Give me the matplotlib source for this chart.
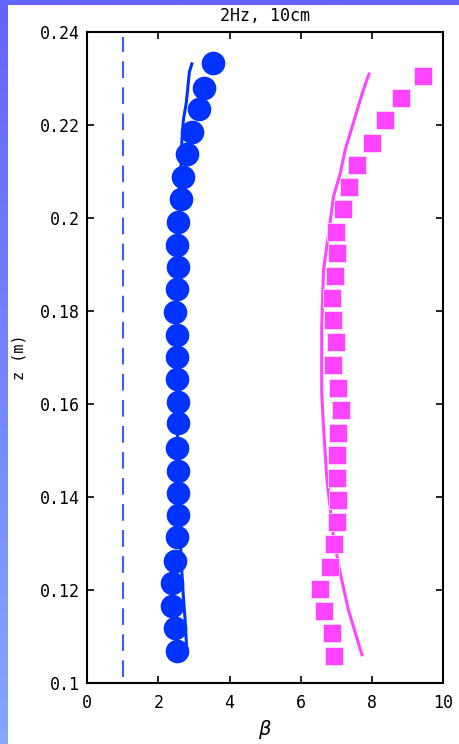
import matplotlib
matplotlib.use('Agg')
import matplotlib.pyplot as plt
import numpy as np
from matplotlib.colors import LinearSegmentedColormap
from matplotlib.ticker import FuncFormatter

# blue series (circles) - beta vs z
z_blue = [0.2333, 0.2281, 0.2234, 0.2185, 0.2137, 0.2089, 0.2041, 0.1992, 0.1942,
          0.1894, 0.1847, 0.1799, 0.1748, 0.1700, 0.1653, 0.1605, 0.1558, 0.1505,
          0.1456, 0.1409, 0.1361, 0.1313, 0.1263, 0.1214, 0.1166, 0.1117, 0.1069]
b_blue = [3.52, 3.28, 3.14, 2.95, 2.80, 2.70, 2.64, 2.56, 2.51,
          2.56, 2.51, 2.47, 2.51, 2.51, 2.51, 2.56, 2.56, 2.51,
          2.56, 2.56, 2.56, 2.51, 2.47, 2.37, 2.37, 2.47, 2.51]

# magenta series (squares)
z_mag = [0.2307, 0.2259, 0.2211, 0.2162, 0.2114, 0.2068, 0.2020, 0.1971, 0.1924,
         0.1876, 0.1829, 0.1781, 0.1733, 0.1684, 0.1634, 0.1586, 0.1537, 0.1490,
         0.1441, 0.1393, 0.1345, 0.1298, 0.1250, 0.1202, 0.1154, 0.1106, 0.1058]
b_mag = [9.44, 8.82, 8.38, 8.00, 7.57, 7.36, 7.18, 6.99, 7.02,
         6.97, 6.87, 6.90, 6.99, 6.92, 7.04, 7.13, 7.04, 7.02,
         7.03, 7.06, 7.03, 6.94, 6.81, 6.55, 6.65, 6.89, 6.94]

# model curves
z_blue_fit = [0.2332, 0.2315, 0.2276, 0.2247, 0.2211, 0.2168, 0.20, 0.18, 0.16,
              0.14, 0.1236, 0.1185, 0.1135, 0.1064]
b_blue_fit = [2.94, 2.87, 2.82, 2.78, 2.70, 2.66, 2.58, 2.53, 2.52,
              2.56, 2.66, 2.70, 2.75, 2.80]
z_mag_fit = [0.2310, 0.2276, 0.2218, 0.2147, 0.2096, 0.2046, 0.1982, 0.1888, 0.1766,
             0.1624, 0.1550, 0.1443, 0.1314, 0.1236, 0.1157, 0.1060]
b_mag_fit = [7.92, 7.76, 7.53, 7.25, 7.11, 6.92, 6.81, 6.64, 6.59,
             6.59, 6.64, 6.73, 6.92, 7.11, 7.34, 7.72]

# reference line beta = 1
z_ref = [0.1013, 0.2390]
b_ref = [1, 1]

fig = plt.figure(figsize=(4.6, 7.44), dpi=100)

# blue frame background with a gradient, white panel on top
bg = fig.add_axes([0, 0, 1, 1], zorder=-10)
cmap = LinearSegmentedColormap.from_list('bg', ['#6464ff', '#86a6ff'])
bg.imshow(np.linspace(0, 1, 256).reshape(-1, 1), aspect='auto', cmap=cmap,
          extent=[0, 1, 0, 1], origin='upper')
bg.add_patch(plt.Rectangle((8 / 460, 0), 1, 1 - 5 / 744, color='white', lw=0))
bg.set_xlim(0, 1)
bg.set_ylim(0, 1)
bg.axis('off')

font = 'DejaVu Sans Mono'
ax = fig.add_axes([87.3 / 460, 61.3 / 744, 355.7 / 460, 650.4 / 744])

ax.plot(b_ref, z_ref, color='#3a5cff', lw=1.5, dashes=(8, 4.5))
ax.plot(b_blue_fit, z_blue_fit, color='#0033ff', lw=2.2)
ax.plot(b_mag_fit, z_mag_fit, color='#ff44ff', lw=2.2)
ax.plot(b_blue, z_blue, 'o', color='#0033ff', ms=17, mew=0)
ax.plot(b_mag, z_mag, 's', color='#ff44ff', ms=13, mec='#ffe0ff', mew=0.6)

ax.set_xlim(0, 10)
ax.set_ylim(0.1, 0.24)
ax.set_xticks(np.arange(0, 11, 2))
ax.set_yticks(np.arange(0.10, 0.2401, 0.02))
ax.yaxis.set_major_formatter(FuncFormatter(lambda v, p: '%g' % round(v, 2)))
ax.tick_params(direction='in', length=5, width=1.2, top=True, right=True,
               labelsize=12)
ax.tick_params(axis='x', pad=8)
ax.tick_params(axis='y', pad=5)
for lab in ax.get_xticklabels() + ax.get_yticklabels():
    lab.set_family(font)
for s in ax.spines.values():
    s.set_linewidth(1.5)

ax.set_title('2Hz, 10cm', fontsize=12, family=font, pad=8)
ax.set_ylabel('z (m)', fontsize=11, family=font)
ax.yaxis.set_label_coords(-0.17, 0.5)
ax.set_xlabel(r'$\beta$', fontsize=14)
ax.xaxis.set_label_coords(0.5, -0.055)

fig.savefig('out.png', dpi=100)
